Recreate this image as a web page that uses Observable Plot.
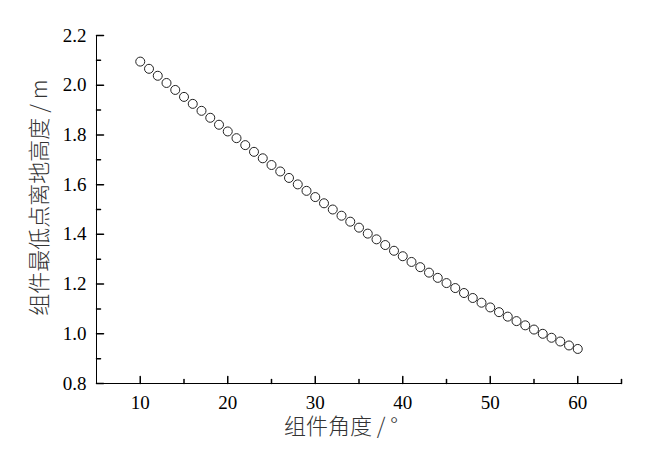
<!DOCTYPE html>
<html>
<head>
<meta charset="utf-8">
<script src="https://cdn.jsdelivr.net/npm/d3@7"></script>
<script src="https://cdn.jsdelivr.net/npm/@observablehq/plot@0.6"></script>
<style>
  html, body { margin: 0; padding: 0; background: #fff; }
</style>
</head>
<body>
<div id="chart"></div>
<script>
// Component angle (degrees)
const angles = [10,11,12,13,14,15,16,17,18,19,20,21,22,23,24,25,26,27,28,29,30,
                31,32,33,34,35,36,37,38,39,40,41,42,43,44,45,46,47,48,49,50,
                51,52,53,54,55,56,57,58,59,60];
// Height of the component's lowest point above ground (m)
const heights = [2.095,2.066,2.038,2.009,1.981,1.953,1.925,1.897,1.869,1.841,1.814,
                 1.787,1.759,1.732,1.706,1.679,1.653,1.627,1.601,1.575,1.550,
                 1.525,1.500,1.475,1.451,1.427,1.403,1.380,1.357,1.334,1.312,
                 1.289,1.268,1.246,1.225,1.204,1.184,1.164,1.144,1.125,1.106,
                 1.087,1.069,1.051,1.034,1.017,1.000,0.984,0.969,0.953,0.939];

const xTicks = [10, 20, 30, 40, 50, 60];
const xMinorTicks = [15, 25, 35, 45, 55, 65];
const yTicks = [0.8, 1.0, 1.2, 1.4, 1.6, 1.8, 2.0, 2.2];
const yMinorTicks = [0.9, 1.1, 1.3, 1.5, 1.7, 1.9, 2.1];
const xDomain = [5, 65];
const yDomain = [0.8, 2.2];
const xLabel = "组件角度 / °";
const yLabel = "组件最低点离地高度 / m";

const data = angles.map((a, i) => ({angle: a, height: heights[i]}));

const tickLine = {
  draw(context, l) { context.moveTo(0, 0); context.lineTo(0, -l); }
};

const serif = "'Liberation Serif', 'Times New Roman', serif";
const cjk = "'Noto Sans CJK SC', 'Noto Sans', sans-serif";

const chart = Plot.plot({
  width: 660,
  height: 451,
  marginLeft: 96,
  marginRight: 39,
  marginTop: 35,
  marginBottom: 68,
  style: {fontFamily: serif, fontSize: "19px", background: "#fff", color: "#000"},
  x: {domain: xDomain, axis: null},
  y: {domain: yDomain, axis: null},
  marks: [
    // axis lines
    Plot.ruleY([yDomain[0]], {stroke: "#000", strokeWidth: 1}),
    Plot.ruleX([xDomain[0]], {stroke: "#000", strokeWidth: 1}),
    // inward ticks
    Plot.vector(xTicks, {x: d => d, y: yDomain[0], length: 7, rotate: 0, anchor: "start", shape: tickLine, stroke: "#000"}),
    Plot.vector(xMinorTicks, {x: d => d, y: yDomain[0], length: 4, rotate: 0, anchor: "start", shape: tickLine, stroke: "#000"}),
    Plot.vector(yTicks, {x: xDomain[0], y: d => d, length: 7, rotate: 90, anchor: "start", shape: tickLine, stroke: "#000"}),
    Plot.vector(yMinorTicks, {x: xDomain[0], y: d => d, length: 4, rotate: 90, anchor: "start", shape: tickLine, stroke: "#000"}),
    // tick labels
    Plot.axisX({ticks: xTicks, tickSize: 0, tickPadding: 12, label: null, fill: "#000", fontFamily: serif, fontSize: 19}),
    Plot.axisY({ticks: yTicks, tickSize: 0, tickPadding: 10, tickFormat: d3.format(".1f"), label: null, fill: "#000", fontFamily: serif, fontSize: 19}),
    // axis titles
    Plot.text([xLabel], {frameAnchor: "bottom", textAnchor: "middle", dx: -18, dy: 50, fontSize: 22, fontFamily: cjk, fontWeight: 300, fill: "#333"}),
    Plot.text([yLabel], {frameAnchor: "left", textAnchor: "middle", dx: -57, dy: -12, rotate: -90, fontSize: 22, fontFamily: cjk, fontWeight: 300, fill: "#333"}),
    // data
    Plot.dot(data, {x: "angle", y: "height", r: 4.5, stroke: "#222", strokeWidth: 1, fill: "#fff"})
  ]
});

document.getElementById("chart").append(chart);
</script>
</body>
</html>
